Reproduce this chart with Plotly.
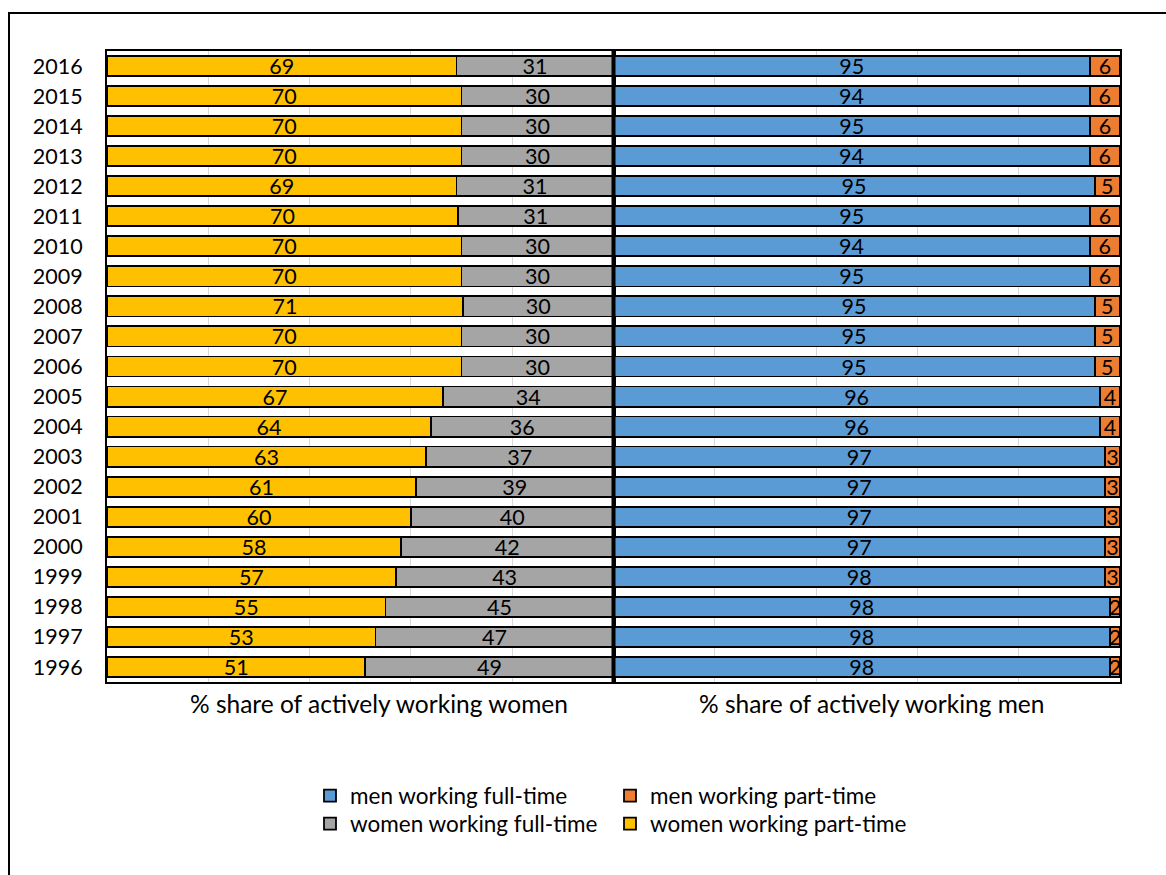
import plotly.graph_objects as go
from plotly.subplots import make_subplots

years = [str(y) for y in range(2016, 1995, -1)]

women_part_time = [69, 70, 70, 70, 69, 70, 70, 70, 71, 70, 70, 67, 64, 63, 61, 60, 58, 57, 55, 53, 51]
women_full_time = [31, 30, 30, 30, 31, 31, 30, 30, 30, 30, 30, 34, 36, 37, 39, 40, 42, 43, 45, 47, 49]
men_full_time = [95, 94, 95, 94, 95, 95, 94, 95, 95, 95, 95, 96, 96, 97, 97, 97, 97, 98, 98, 98, 98]
men_part_time = [6, 6, 6, 6, 5, 6, 6, 6, 5, 5, 5, 4, 4, 3, 3, 3, 3, 3, 2, 2, 2]

panel_titles = ["% share of actively working women", "% share of actively working men"]

FONT = "Lato"
W, H = 1166, 875
ML, MR, MT, MB = 107, 46, 51, 193
PW, PH = W - ML - MR, H - MT - MB


def px_x(x):
    return (x - ML) / PW


def px_y(y):
    return (H - MB - y) / PH


fig = make_subplots(rows=1, cols=2, shared_yaxes=True, horizontal_spacing=0.0)


def bar(vals, name, color, col, legend):
    fig.add_trace(
        go.Bar(
            y=years,
            x=vals,
            orientation="h",
            name=name,
            marker=dict(color=color, line=dict(color="black", width=1.8)),
            text=[str(v) for v in vals],
            textposition="inside",
            insidetextanchor="middle",
            textangle=0,
            constraintext="none",
            textfont=dict(family=FONT, size=21.5, color="black"),
            legend=legend,
            cliponaxis=False,
        ),
        row=1,
        col=col,
    )


bar(women_part_time, "women working part-time", "#FFC000", 1, "legend2")
bar(women_full_time, "women working full-time", "#A5A5A5", 1, "legend2")
bar(men_full_time, "men working full-time", "#5B9BD5", 2, "legend")
bar(men_part_time, "men working part-time", "#ED7D31", 2, "legend")

# legend entries listed full-time first
fig.data[0].legendrank = 2
fig.data[1].legendrank = 1
fig.data[2].legendrank = 1
fig.data[3].legendrank = 2

fig.update_xaxes(
    range=[0, 100],
    dtick=20,
    showgrid=True,
    gridcolor="#D9D9D9",
    gridwidth=1,
    zeroline=False,
    showticklabels=False,
    ticks="",
    showline=True,
    linecolor="black",
    linewidth=2,
    mirror=True,
)

fig.update_yaxes(
    categoryorder="array",
    categoryarray=years[::-1],
    showline=True,
    linecolor="black",
    linewidth=2,
    mirror=True,
    ticks="",
    tickfont=dict(family=FONT, size=21.5, color="black"),
    ticklabelstandoff=18,
)

# panel captions below each half
for xc, txt in zip([px_x(379), px_x(871)], panel_titles):
    fig.add_annotation(
        x=xc, y=px_y(703), xref="paper", yref="paper",
        text=txt, showarrow=False, xanchor="center", yanchor="middle",
        font=dict(family=FONT, size=24.5, color="black"),
    )

legend_common = dict(
    orientation="h",
    traceorder="normal",
    xanchor="left",
    yanchor="middle",
    x=px_x(310),
    font=dict(family=FONT, size=22.5, color="black"),
    entrywidth=255,
    entrywidthmode="pixels",
    itemwidth=30,
    bgcolor="rgba(0,0,0,0)",
)

fig.update_layout(
    width=W,
    height=H,
    margin=dict(l=ML, r=MR, t=MT, b=MB),
    barmode="stack",
    barnorm="percent",
    bargap=0.33,
    plot_bgcolor="white",
    paper_bgcolor="white",
    font=dict(family=FONT, color="black"),
    legend=dict(legend_common, y=px_y(796)),
    legend2=dict(legend_common, y=px_y(824)),
    shapes=[
        # divider between the two panels
        dict(type="line", xref="paper", yref="paper", x0=0.5, x1=0.5, y0=0, y1=1,
             line=dict(color="black", width=4)),
        # outer frame
        dict(type="rect", xref="paper", yref="paper",
             x0=px_x(9), x1=px_x(1200), y0=px_y(900), y1=px_y(13),
             line=dict(color="black", width=2)),
    ],
)

fig.write_html("out.html")
